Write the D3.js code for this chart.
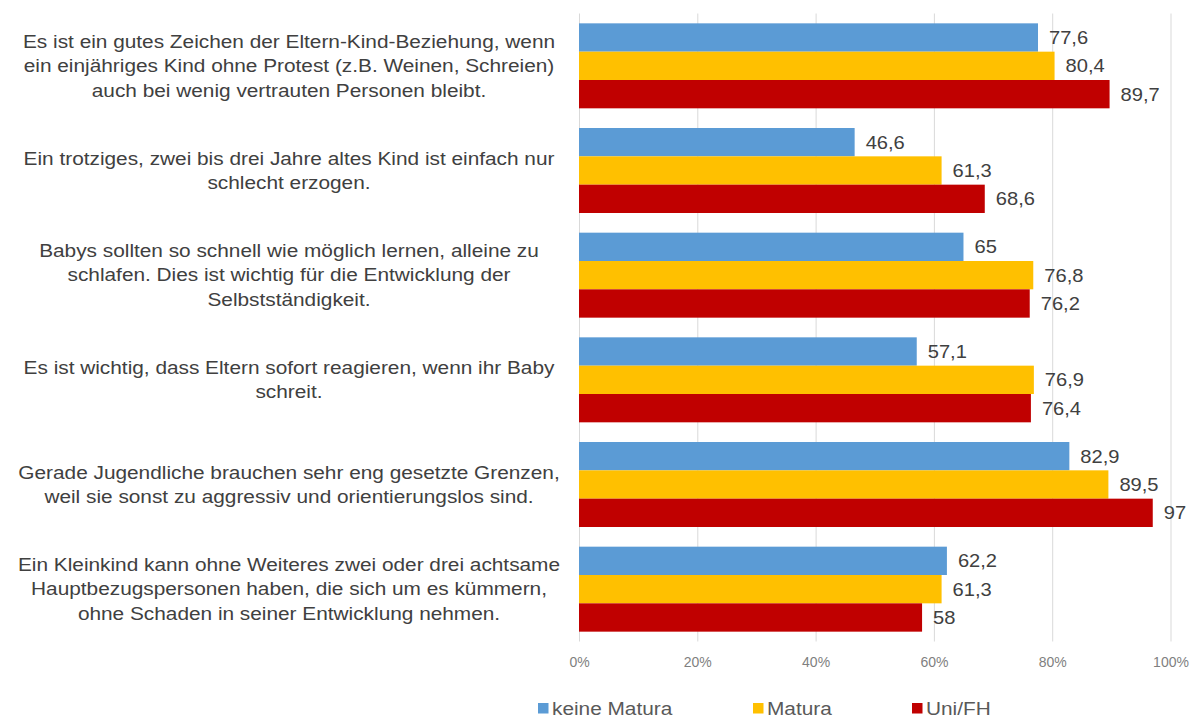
<!DOCTYPE html>
<html>
<head>
<meta charset="utf-8">
<script src="https://cdn.jsdelivr.net/npm/d3@7"></script>
<style>
  body { margin: 0; background: #fff; }
  text { font-family: "Liberation Sans", Arial, sans-serif; }
</style>
</head>
<body>
<div id="chart"></div>
<script>
/* chart data */
var categories = [
  ["Es ist ein gutes Zeichen der Eltern-Kind-Beziehung, wenn", "ein einjähriges Kind ohne Protest (z.B. Weinen, Schreien)", "auch bei wenig vertrauten Personen bleibt."],
  ["Ein trotziges, zwei bis drei Jahre altes Kind ist einfach nur", "schlecht erzogen."],
  ["Babys sollten so schnell wie möglich lernen, alleine zu", "schlafen. Dies ist wichtig für die Entwicklung der", "Selbstständigkeit."],
  ["Es ist wichtig, dass Eltern sofort reagieren, wenn ihr Baby", "schreit."],
  ["Gerade Jugendliche brauchen sehr eng gesetzte Grenzen,", "weil sie sonst zu aggressiv und orientierungslos sind."],
  ["Ein Kleinkind kann ohne Weiteres zwei oder drei achtsame", "Hauptbezugspersonen haben, die sich um es kümmern,", "ohne Schaden in seiner Entwicklung nehmen."]
];
var seriesNames = ["keine Matura", "Matura", "Uni/FH"];
var keineMatura = [77.6, 46.6, 65, 57.1, 82.9, 62.2];
var matura      = [80.4, 61.3, 76.8, 76.9, 89.5, 61.3];
var uniFH       = [89.7, 68.6, 76.2, 76.4, 97, 58];
var tickValues  = [0, 20, 40, 60, 80, 100];

var seriesValues = [keineMatura, matura, uniFH];
var colors = ["#5B9BD5", "#FFC000", "#C00000"];

/* size of the graphic */
var width = 1192, height = 718;
var plotLeft = 579, plotRight = 1170.5, plotTop = 13.5, plotBottom = 641.5;
var sx = 1.19;        // the source text is stretched horizontally
var textColor = "#404040";

var svg = d3.select("#chart").append("svg")
  .attr("width", width)
  .attr("height", height);

var x = d3.scaleLinear().domain([0, 100]).range([plotLeft, plotRight]);

var idx = d3.range(categories.length);
var y0 = d3.scaleBand().domain(idx).range([plotTop, plotBottom])
  .paddingInner(0.188).paddingOuter(0.094);
var y1 = d3.scaleBand().domain(d3.range(seriesNames.length)).range([0, y0.bandwidth()]);

/* gridlines + tick labels */
var axis = d3.axisBottom(x).tickValues(tickValues)
  .tickSize(-(plotBottom - plotTop))
  .tickFormat(function(d) { return d + "%"; });

var gAxis = svg.append("g")
  .attr("transform", "translate(0," + plotBottom + ")")
  .call(axis);
gAxis.select(".domain").remove();
gAxis.selectAll(".tick line").attr("stroke", "#d9d9d9");
gAxis.selectAll(".tick text")
  .attr("y", 16)
  .attr("fill", "#7f7f7f")
  .style("font-size", "14px")
  .style("font-family", "'Liberation Sans', Arial, sans-serif");

/* bars */
var fmt = function(v) { return String(v).replace(".", ","); };

idx.forEach(function(i) {
  var g = svg.append("g").attr("transform", "translate(0," + y0(i) + ")");
  seriesValues.forEach(function(vals, s) {
    g.append("rect")
      .attr("x", x(0))
      .attr("y", y1(s))
      .attr("width", x(vals[i]) - x(0))
      .attr("height", y1.bandwidth())
      .attr("fill", colors[s]);

    g.append("text")
      .attr("transform", "translate(" + (x(vals[i]) + 11) + "," + (y1(s) + y1.bandwidth() / 2 + 6.5) + ") scale(1.15,1)")
      .attr("fill", textColor)
      .style("font-size", "17.5px")
      .text(fmt(vals[i]));
  });

  /* category label, centered on the group */
  var lines = categories[i];
  var cy = y0(i) + y0.bandwidth() / 2;
  var lh = 24.5;
  lines.forEach(function(line, k) {
    var by = cy + (k - (lines.length - 1) / 2) * lh + 6.3;
    svg.append("text")
      .attr("transform", "translate(289," + by + ") scale(" + sx + ",1)")
      .attr("text-anchor", "middle")
      .attr("fill", textColor)
      .style("font-size", "17.5px")
      .text(line);
  });
});

/* legend */
var legendX = [538, 753, 912];
seriesNames.forEach(function(name, s) {
  svg.append("rect")
    .attr("x", legendX[s])
    .attr("y", 703)
    .attr("width", 10.5)
    .attr("height", 10.5)
    .attr("fill", colors[s]);
  svg.append("text")
    .attr("transform", "translate(" + (legendX[s] + 14) + ",715) scale(" + sx + ",1)")
    .attr("fill", "#595959")
    .style("font-size", "17.5px")
    .text(name);
});
</script>
</body>
</html>
